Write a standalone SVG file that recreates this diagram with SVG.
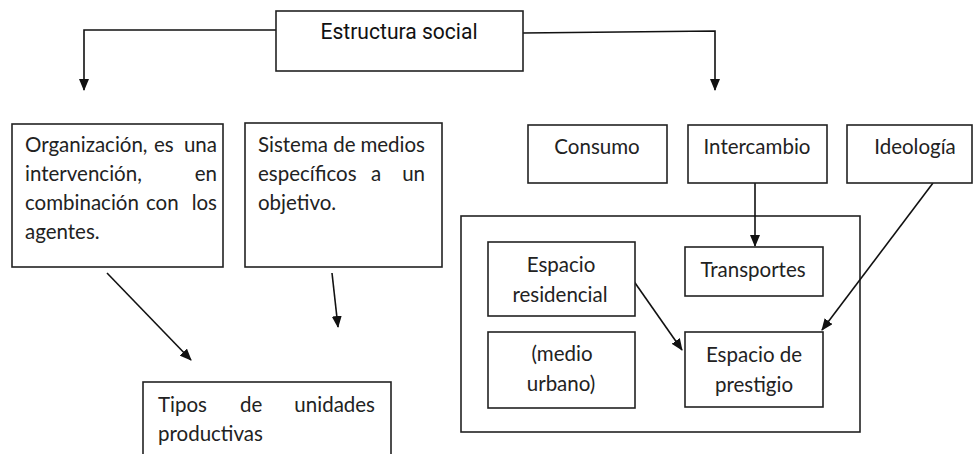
<svg xmlns="http://www.w3.org/2000/svg" width="974" height="454" viewBox="0 0 974 454">
<style>
.box{fill:#fff;stroke:#222;stroke-width:1.6}
.frame{fill:none;stroke:#222;stroke-width:1.6}
.t{font-family:Lato,"Open Sans",sans-serif;font-size:20.5px;fill:#222}
.c{text-anchor:middle}
.e{text-anchor:end}
.h{font-family:Roboto,"Liberation Sans",sans-serif;font-size:22px;fill:#111;text-anchor:middle}
.ln{fill:none;stroke:#111;stroke-width:1.6}
</style>
<defs>
<marker id="ah" markerWidth="12" markerHeight="10" refX="11" refY="5" orient="auto" markerUnits="userSpaceOnUse">
<path d="M0,0 L12,5 L0,10 z" fill="#111"/>
</marker>
</defs>
<rect width="974" height="454" fill="#fff"/>
<g id="contenedor">
<rect class="frame" x="461" y="216" width="399" height="216"/>
</g>
<g id="connectors">
<polyline class="ln" points="276,30 84,30 84,90" marker-end="url(#ah)"/>
<polyline class="ln" points="523,33 715,31 715,90" marker-end="url(#ah)"/>
<line class="ln" x1="107" y1="273" x2="191" y2="360" marker-end="url(#ah)"/>
<line class="ln" x1="332" y1="273" x2="338" y2="327" marker-end="url(#ah)"/>
<line class="ln" x1="755" y1="183" x2="755" y2="246" marker-end="url(#ah)"/>
<line class="ln" x1="633" y1="280" x2="682" y2="350" marker-end="url(#ah)"/>
<line class="ln" x1="933" y1="183" x2="822" y2="330" marker-end="url(#ah)"/>
</g>
<g id="estructura">
<rect class="box" x="276" y="11" width="247" height="60"/>
<text class="h" x="399" y="39" textLength="157" lengthAdjust="spacingAndGlyphs">Estructura social</text>
</g>
<g id="organizacion">
<rect class="box" x="12" y="124" width="211" height="143"/>
<text class="t" x="25" y="152">Organización,</text>
<text class="t" x="154" y="152">es</text>
<text class="t e" x="217" y="152">una</text>
<text class="t" x="25" y="181">intervención,</text>
<text class="t e" x="217" y="181">en</text>
<text class="t" x="25" y="210">combinación</text>
<text class="t" x="146" y="210">con</text>
<text class="t e" x="217" y="210">los</text>
<text class="t" x="25" y="239">agentes.</text>
</g>
<g id="sistema">
<rect class="box" x="245" y="123" width="197" height="144"/>
<text class="t" x="258" y="152">Sistema de</text>
<text class="t e" x="425" y="152">medios</text>
<text class="t" x="258" y="181">específicos</text>
<text class="t" x="371" y="181">a</text>
<text class="t e" x="425" y="181">un</text>
<text class="t" x="258" y="210">objetivo.</text>
</g>
<g id="tipos">
<rect class="box" x="143" y="382" width="248" height="80"/>
<text class="t" x="158" y="412">Tipos</text>
<text class="t" x="240" y="412">de</text>
<text class="t e" x="375" y="412">unidades</text>
<text class="t" x="158" y="441">productivas</text>
</g>
<g id="consumo">
<rect class="box" x="528" y="125" width="139" height="58"/>
<text class="t c" x="597" y="154">Consumo</text>
</g>
<g id="intercambio">
<rect class="box" x="688" y="125" width="139" height="58"/>
<text class="t c" x="757" y="154">Intercambio</text>
</g>
<g id="ideologia">
<rect class="box" x="847" y="125" width="125" height="58"/>
<text class="t c" x="915" y="154">Ideología</text>
</g>
<g id="espacio-residencial">
<rect class="box" x="488" y="242" width="147" height="74"/>
<text class="t c" x="561" y="272">Espacio</text>
<text class="t c" x="560" y="302">residencial</text>
</g>
<g id="transportes">
<rect class="box" x="685" y="247" width="138" height="49"/>
<text class="t c" x="753" y="277">Transportes</text>
</g>
<g id="medio-urbano">
<rect class="box" x="488" y="332" width="147" height="76"/>
<text class="t c" x="562" y="361">(medio</text>
<text class="t c" x="561" y="391">urbano)</text>
</g>
<g id="espacio-prestigio">
<rect class="box" x="685" y="332" width="138" height="75"/>
<text class="t c" x="754" y="362">Espacio de</text>
<text class="t c" x="754" y="392">prestigio</text>
</g>
</svg>
